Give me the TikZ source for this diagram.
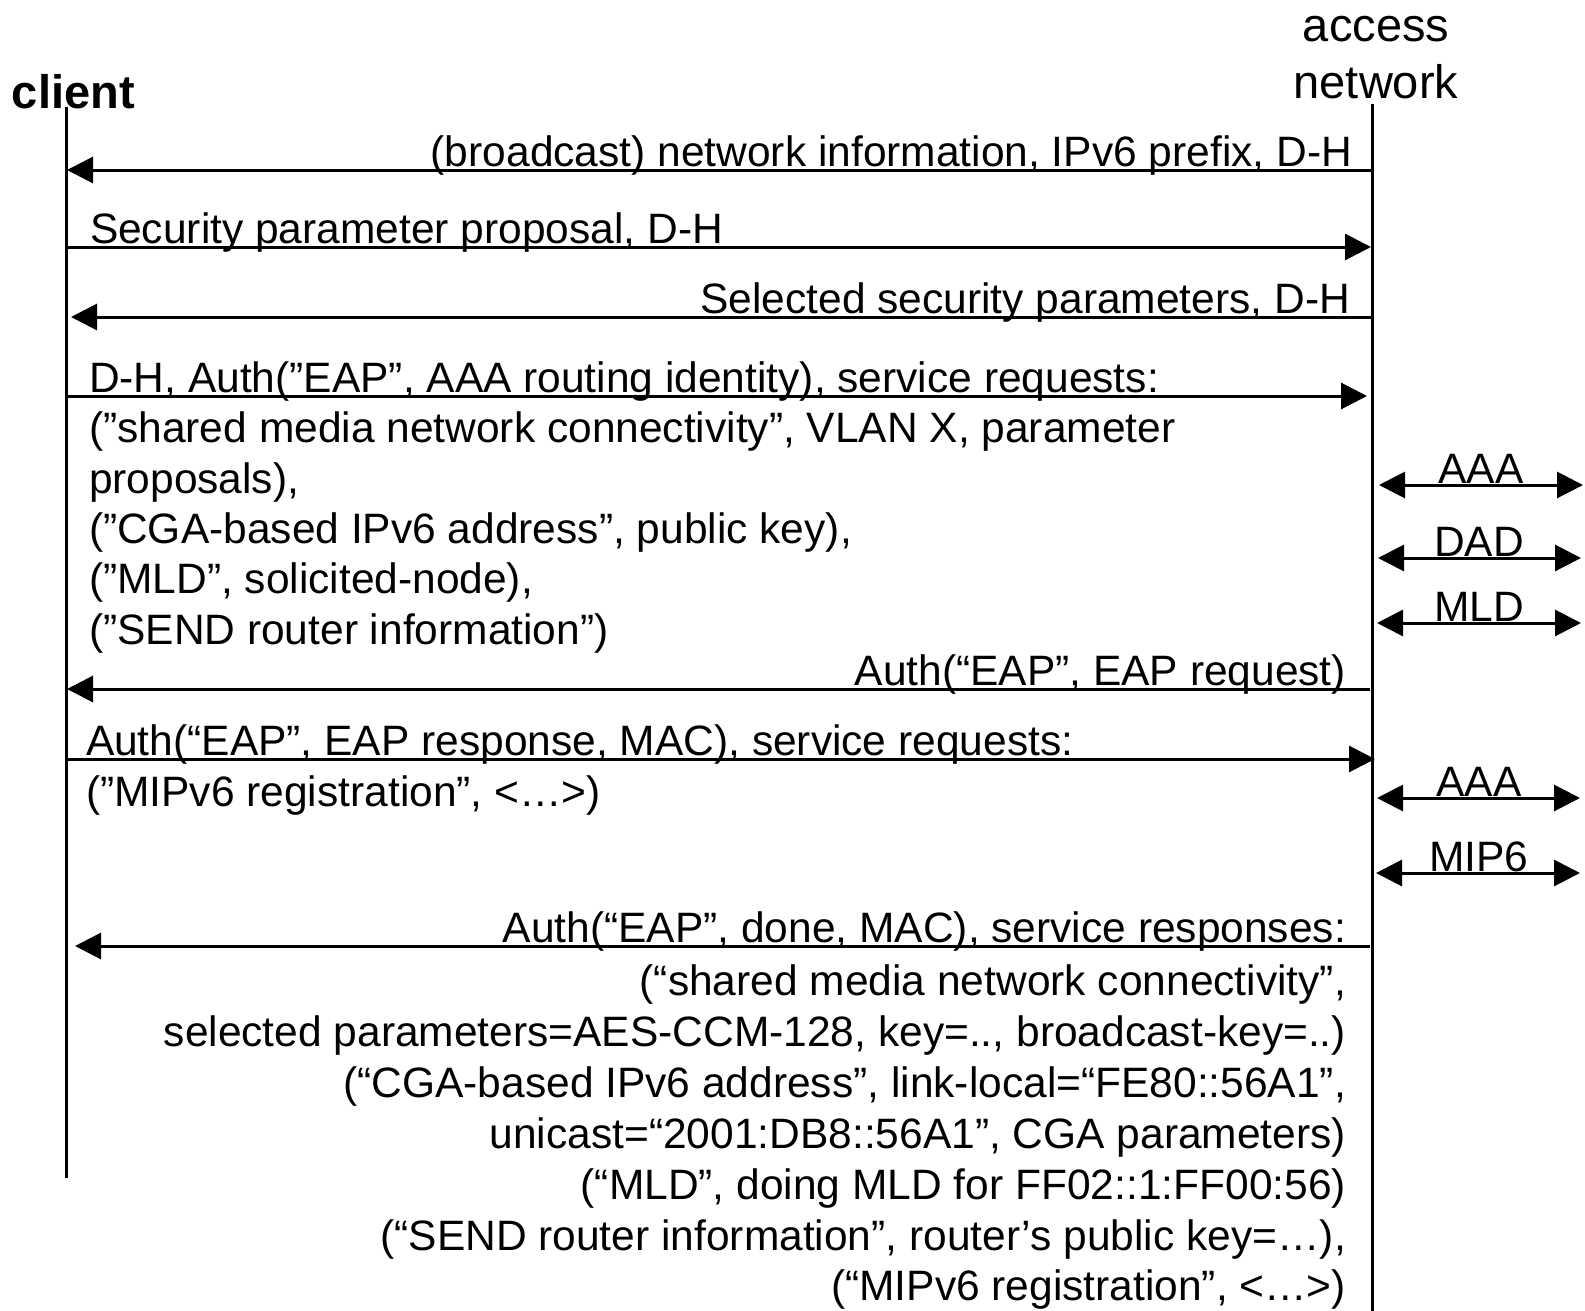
\documentclass[tikz,border=0pt]{standalone}
\usepackage{fontspec}
\setmainfont{Liberation Sans}
\usetikzlibrary{arrows.meta}
\begin{document}
\begin{tikzpicture}[x=1pt,y=-1pt,
  life/.style={line width=3pt},
  msg/.style={line width=3pt,-{Triangle[length=26pt,width=26pt]}},
  side/.style={line width=3pt,{Triangle[length=26pt,width=26pt]}-{Triangle[length=26pt,width=26pt]}},
  lbl/.style={inner sep=0pt,outer sep=0pt,font=\fontsize{42.5}{51}\selectfont},
  lblw/.style={lbl,anchor=base west},
  lble/.style={lbl,anchor=base east},
  lblc/.style={lbl,anchor=base},
  hdr/.style={inner sep=0pt,outer sep=0pt,font=\fontsize{47}{56}\selectfont}]
\useasboundingbox (0,0) rectangle (1585,1311);

% headers
\node[hdr,anchor=base west,font=\fontsize{47}{56}\selectfont\bfseries] (client) at (12,109) {client};
\node[hdr,anchor=base] (acc1) at (1376,42) {access};
\node[hdr,anchor=base] (acc2) at (1376,99) {network};

% lifelines
\coordinate (ctop) at (66.5,107);
\coordinate (cbot) at (66.5,1178);
\coordinate (atop) at (1372,104);
\coordinate (abot) at (1372,1311);
\draw[life] (ctop) -- (cbot);
\draw[life] (atop) -- (abot);

% message end points
\coordinate (a1) at (1372,170);  \coordinate (c1) at (67,170);
\coordinate (c2) at (67,247);    \coordinate (a2) at (1371,247);
\coordinate (a3) at (1372,317);  \coordinate (c3) at (71,317);
\coordinate (c4) at (68,396);    \coordinate (a4) at (1367,396);
\coordinate (a5) at (1370,689);  \coordinate (c5) at (67,689);
\coordinate (c6) at (67,759);    \coordinate (a6) at (1375,759);
\coordinate (a7) at (1370,946);  \coordinate (c7) at (75,946);

\draw[msg] (a1) -- (c1);
\draw[msg] (c2) -- (a2);
\draw[msg] (a3) -- (c3);
\draw[msg] (c4) -- (a4);
\draw[msg] (a5) -- (c5);
\draw[msg] (c6) -- (a6);
\draw[msg] (a7) -- (c7);

% labels
\node[lble] (m1) at (1352,166) {(broadcast) network information, IPv6 prefix, D-H};
\node[lblw] (m2) at (90,243) {Security parameter proposal, D-H};
\node[lble] (m3) at (1350,313) {Selected security parameters, D-H};
\node[lblw] (m4) at (89,392) {D-H, Auth(”EAP”, AAA routing identity), service requests:};
\node[lblw] (m4b) at (89,442) {(”shared media network connectivity”, VLAN X, parameter};
\node[lblw] (m4c) at (89,493) {proposals),};
\node[lblw] (m4d) at (89,543) {(”CGA-based IPv6 address”, public key),};
\node[lblw] (m4e) at (89,593) {(”MLD”, solicited-node),};
\node[lblw] (m4f) at (89,644) {(”SEND router information”)};
\node[lble] (m5) at (1346,685) {Auth(“EAP”, EAP request)};
\node[lblw] (m6) at (86,755) {Auth(“EAP”, EAP response, MAC), service requests:};
\node[lblw] (m6b) at (86,806) {(”MIPv6 registration”, <…>)};
\node[lble] (m7) at (1346,942) {Auth(“EAP”, done, MAC), service responses:};
\node[lble] (m7b) at (1346,995) {(“shared media network connectivity”,};
\node[lble] (m7c) at (1346,1046) {selected parameters=AES-CCM-128, key=.., broadcast-key=..)};
\node[lble] (m7d) at (1346,1097) {(“CGA-based IPv6 address”, link-local=“FE80::56A1”,};
\node[lble] (m7e) at (1346,1148) {unicast=“2001:DB8::56A1”, CGA parameters)};
\node[lble] (m7f) at (1346,1199) {(“MLD”, doing MLD for FF02::1:FF00:56)};
\node[lble] (m7g) at (1346,1250) {(“SEND router information”, router’s public key=…),};
\node[lble] (m7h) at (1346,1300) {(“MIPv6 registration”, <…>)};

% side exchanges
\coordinate (s1l) at (1379,485); \coordinate (s1r) at (1583,485);
\coordinate (s2l) at (1378,558); \coordinate (s2r) at (1581,558);
\coordinate (s3l) at (1377,623); \coordinate (s3r) at (1581,623);
\coordinate (s4l) at (1377,798); \coordinate (s4r) at (1580,798);
\coordinate (s5l) at (1376,873); \coordinate (s5r) at (1580,873);
\draw[side] (s1l) -- (s1r);
\draw[side] (s2l) -- (s2r);
\draw[side] (s3l) -- (s3r);
\draw[side] (s4l) -- (s4r);
\draw[side] (s5l) -- (s5r);
\node[lblc] (x1) at (1481,483) {AAA};
\node[lblc] (x2) at (1479,556) {DAD};
\node[lblc] (x3) at (1479,621) {MLD};
\node[lblc] (x4) at (1479,796) {AAA};
\node[lblc] (x5) at (1479,871) {MIP6};
\end{tikzpicture}
\end{document}
